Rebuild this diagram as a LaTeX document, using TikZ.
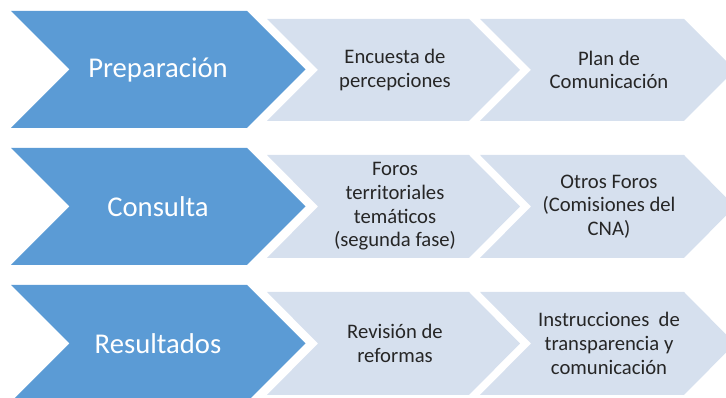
\documentclass[tikz,border=0pt]{standalone}
\usepackage{fontspec}
\setmainfont{Carlito}
\definecolor{fuerte}{RGB}{91,155,213}
\definecolor{suave}{RGB}{214,224,238}
\tikzset{
  fase/.style={text=white,font=\fontsize{21.5}{26}\selectfont},
  paso/.style={text=black!85,align=center,font=\fontsize{15.5}{17.8}\selectfont}
}

\begin{document}
\begin{tikzpicture}[x=0.75pt,y=-0.75pt]
\useasboundingbox (0,0) rectangle (726,398);
\clip (0,0) rectangle (726,398);
% fila 1
\fill[fuerte] (11,11) -- (247,11) -- (305.5,69.5) -- (247,128) -- (11,128) -- (69.5,69.5) -- cycle;
\fill[suave] (267,19) -- (469,19) -- (520,70) -- (469,121) -- (267,121) -- (318,70) -- cycle;
\fill[suave] (480,19) -- (684,19) -- (735,70) -- (684,121) -- (480,121) -- (531,70) -- cycle;
\node[fase] (prep) at (158,69.5) {Preparación};
\node[paso] (enc) at (395,70) {Encuesta de\\percepciones};
\node[paso] (plan) at (609,70) {Plan de\\Comunicación};
% fila 2
\fill[fuerte] (11,148) -- (247,148) -- (305.5,206.5) -- (247,265) -- (11,265) -- (69.5,206.5) -- cycle;
\fill[suave] (267,155) -- (469,155) -- (520,206.5) -- (469,258) -- (267,258) -- (318,206.5) -- cycle;
\fill[suave] (480,155) -- (684,155) -- (735,206.5) -- (684,258) -- (480,258) -- (531,206.5) -- cycle;
\node[fase] (cons) at (158,206.5) {Consulta};
\node[paso] (foros) at (395,206.5) {Foros\\territoriales\\temáticos\\(segunda fase)};
\node[paso] (otros) at (609,206.5) {Otros Foros\\(Comisiones del\\CNA)};
% fila 3
\fill[fuerte] (11,285) -- (247,285) -- (305.5,343.5) -- (247,402) -- (11,402) -- (69.5,343.5) -- cycle;
\fill[suave] (267,292) -- (469,292) -- (520,343.5) -- (469,395) -- (267,395) -- (318,343.5) -- cycle;
\fill[suave] (480,292) -- (684,292) -- (735,343.5) -- (684,395) -- (480,395) -- (531,343.5) -- cycle;
\node[fase] (resu) at (158,343.5) {Resultados};
\node[paso] (rev) at (395,343.5) {Revisión de\\reformas};
\node[paso] (instr) at (609,343.5) {Instrucciones\ \ de\\transparencia y\\comunicación};
\end{tikzpicture}
\end{document}
